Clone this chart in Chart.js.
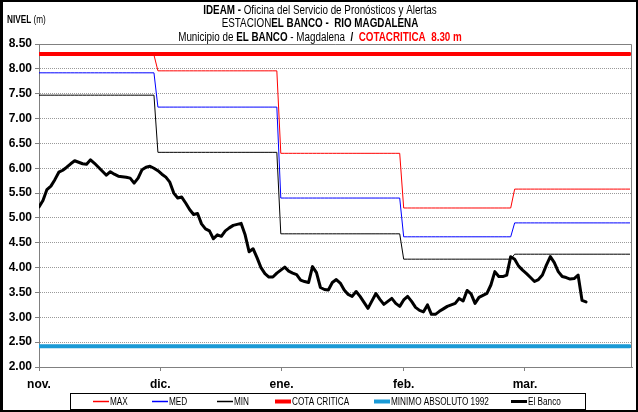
<!DOCTYPE html>
<html>
<head>
<meta charset="utf-8">
<script src="https://cdn.jsdelivr.net/npm/chart.js@4.4.0/dist/chart.umd.min.js"></script>
<style>
html, body { margin: 0; padding: 0; background: #fff; }
</style>
</head>
<body>
<canvas id="nivelChart" width="638" height="412"></canvas>
<script>
// meses del eje x y su duracion en dias
const months = ['nov.', 'dic.', 'ene.', 'feb.', 'mar.'];
const monthDays = [30, 31, 31, 28, 30];
const monthTicks = [0, 30.6, 61.2, 92, 122.6];

// niveles historicos por mes
const maxLevels = [8.28, 7.96, 6.30, 5.20, 5.58];
const medLevels = [7.92, 7.23, 5.40, 4.62, 4.90];
const minLevels = [7.47, 6.32, 4.68, 4.17, 4.27];
const cotaCritica = 8.30;
const minimoAbsoluto = 2.42;

// nivel diario observado - El Banco (desde 1 nov)
const elBanco = [
  5.22, 5.35, 5.57, 5.64, 5.77, 5.92, 5.96, 6.02, 6.09, 6.15,
  6.12, 6.09, 6.08, 6.17, 6.10, 6.02, 5.94, 5.86, 5.93, 5.88,
  5.84, 5.83, 5.82, 5.80, 5.70, 5.80, 5.97, 6.02, 6.04, 6.00,
  5.95, 5.88, 5.82, 5.72, 5.50, 5.40, 5.42, 5.30, 5.17, 5.07,
  5.09, 4.88, 4.78, 4.74, 4.58, 4.66, 4.63, 4.74, 4.80, 4.85,
  4.87, 4.89, 4.66, 4.32, 4.38, 4.20, 4.00, 3.88, 3.81, 3.81,
  3.89, 3.95, 4.01, 3.93, 3.89, 3.86, 3.75, 3.72, 3.70, 4.02,
  3.90, 3.60, 3.56, 3.55, 3.70, 3.76, 3.69, 3.55, 3.46, 3.42,
  3.52, 3.42, 3.30, 3.18, 3.33, 3.48, 3.36, 3.26, 3.32, 3.38,
  3.28, 3.22, 3.35, 3.42, 3.32, 3.20, 3.14, 3.11, 3.25, 3.06,
  3.06, 3.12, 3.17, 3.22, 3.25, 3.28, 3.38, 3.33, 3.54, 3.47,
  3.28, 3.40, 3.44, 3.48, 3.65, 3.92, 3.82, 3.82, 3.85, 4.22,
  4.17, 4.03, 3.95, 3.88, 3.80, 3.72, 3.76, 3.85, 4.05, 4.22,
  4.10, 3.92, 3.82, 3.80, 3.77, 3.78, 3.85, 3.34, 3.31
];

const totalDays = monthDays.reduce((a, b) => a + b, 0);

function dailySteps(levels) {
  let out = [];
  let d = 0;
  levels.forEach((v, i) => {
    for (let k = 0; k < monthDays[i]; k++) {
      out.push({x: d, y: v});
      d++;
    }
  });
  return out;
}

function flat(v) {
  return [{x: 0, y: v}, {x: totalDays - 1, y: v}];
}

// Arial Narrow no esta, se comprime Liberation Sans
const sans = '"Liberation Sans", Arial, sans-serif';
const squeeze = 0.82;

function narrowText(ctx, text, x, y, font, color) {
  ctx.save();
  ctx.font = font;
  ctx.fillStyle = color || '#000';
  ctx.translate(x, y);
  ctx.scale(squeeze, 1);
  ctx.fillText(text, 0, 0);
  const w = ctx.measureText(text).width * squeeze;
  ctx.restore();
  return w;
}

function drawRich(ctx, parts, cx, y, size) {
  let total = 0;
  parts.forEach(p => {
    ctx.font = (p.bold ? 'bold ' : '') + size + 'px ' + sans;
    p.w = ctx.measureText(p.t).width * squeeze;
    total += p.w;
  });
  let x = cx - total / 2;
  parts.forEach(p => {
    narrowText(ctx, p.t, x, y, (p.bold ? 'bold ' : '') + size + 'px ' + sans, p.color);
    x += p.w;
  });
}

const decor = {
  id: 'decor',
  beforeDraw(chart) {
    const ctx = chart.ctx;
    ctx.save();
    ctx.fillStyle = '#fff';
    ctx.fillRect(0, 0, chart.width, chart.height);
    ctx.restore();
  },
  afterDraw(chart) {
    const ctx = chart.ctx;
    const a = chart.chartArea;
    ctx.save();

    // borde del area de trazado
    ctx.strokeStyle = '#808080';
    ctx.lineWidth = 1;
    ctx.beginPath();
    ctx.moveTo(a.left, a.top + 0.5);
    ctx.lineTo(a.right - 0.5, a.top + 0.5);
    ctx.lineTo(a.right - 0.5, a.bottom);
    ctx.stroke();

    // marco exterior
    ctx.strokeStyle = '#000';
    ctx.lineWidth = 2;
    ctx.strokeRect(1, 1, chart.width - 2, chart.height - 2);
    ctx.fillStyle = '#000';
    ctx.fillRect(0, 0, 3, chart.height);

    // titulo
    ctx.textBaseline = 'middle';
    ctx.textAlign = 'left';
    drawRich(ctx, [
      {t: 'IDEAM - ', bold: true},
      {t: 'Oficina del Servicio de Pronósticos y Alertas'}
    ], 320, 11, 12);
    drawRich(ctx, [
      {t: 'ESTACION'},
      {t: 'EL BANCO -  RIO MAGDALENA', bold: true}
    ], 320, 24, 12);
    drawRich(ctx, [
      {t: 'Municipio de '},
      {t: 'EL BANCO', bold: true},
      {t: ' - Magdalena  '},
      {t: '/  ', bold: true},
      {t: 'COTACRITICA  8.30 m', bold: true, color: '#ff0000'}
    ], 320, 38, 12);

    // etiqueta del eje y
    let w = narrowText(ctx, 'NIVEL ', 7, 20, 'bold 10px ' + sans);
    narrowText(ctx, '(m)', 7 + w, 20, '10px ' + sans);

    // leyenda
    ctx.strokeStyle = '#000';
    ctx.lineWidth = 1;
    ctx.strokeRect(70.5, 393.5, 515, 16);
    const textX = [110, 169, 234, 292, 391, 528];
    chart.data.datasets.forEach((ds, i) => {
      const tx = textX[i];
      ctx.strokeStyle = ds.borderColor;
      ctx.lineWidth = Math.max(1.5, ds.borderWidth);
      ctx.lineCap = 'butt';
      ctx.beginPath();
      ctx.moveTo(tx - 17, 401.5);
      ctx.lineTo(tx - 1, 401.5);
      ctx.stroke();
      narrowText(ctx, ds.label, tx, 402, '10px ' + sans);
    });

    ctx.restore();
  }
};

const ctx = document.getElementById('nivelChart').getContext('2d');

const nivelChart = new Chart(ctx, {
  type: 'line',
  data: {
    datasets: [
      {label: 'MAX', data: dailySteps(maxLevels), borderColor: '#ff0000', borderWidth: 1, order: 6},
      {label: 'MED', data: dailySteps(medLevels), borderColor: '#0000ff', borderWidth: 1, order: 5},
      {label: 'MIN', data: dailySteps(minLevels), borderColor: '#000000', borderWidth: 1, order: 4},
      {label: 'COTA CRITICA', data: flat(cotaCritica), borderColor: '#ff0000', borderWidth: 4, order: 3},
      {label: 'MINIMO ABSOLUTO 1992', data: flat(minimoAbsoluto), borderColor: '#1a9ad6', borderWidth: 4, order: 2},
      {label: 'El Banco', data: elBanco.map((v, i) => ({x: i, y: v})), borderColor: '#000000', borderWidth: 3, order: 1}
    ]
  },
  options: {
    responsive: false,
    animation: false,
    devicePixelRatio: 1,
    elements: {
      point: {radius: 0},
      line: {tension: 0, borderCapStyle: 'round', borderJoinStyle: 'round'}
    },
    layout: {
      padding: {top: 44, left: 0, right: 6, bottom: 0}
    },
    plugins: {
      legend: {display: false},
      title: {display: false},
      tooltip: {enabled: false}
    },
    scales: {
      x: {
        type: 'linear',
        min: 0,
        max: 149.6,
        afterBuildTicks: (axis) => {
          axis.ticks = monthTicks.map(v => ({value: v}));
        },
        afterFit: (axis) => { axis.height = 45; },
        ticks: {
          autoSkip: false,
          maxRotation: 0,
          padding: 6,
          color: '#000',
          font: {family: sans, size: 12, weight: 'bold'},
          callback: (val, i) => months[i]
        },
        grid: {drawOnChartArea: false, drawTicks: true, tickLength: 4, tickColor: '#808080'},
        border: {color: '#808080'}
      },
      y: {
        min: 2,
        max: 8.5,
        afterFit: (axis) => { axis.width = 39; },
        ticks: {
          stepSize: 0.5,
          padding: 3,
          color: '#000',
          font: {family: sans, size: 12, weight: 'bold'},
          callback: (val) => val.toFixed(2)
        },
        grid: {color: '#9a9a9a', tickLength: 4, tickColor: '#808080'},
        border: {color: '#808080', dash: [1, 1]}
      }
    }
  },
  plugins: [decor]
});
</script>
</body>
</html>
